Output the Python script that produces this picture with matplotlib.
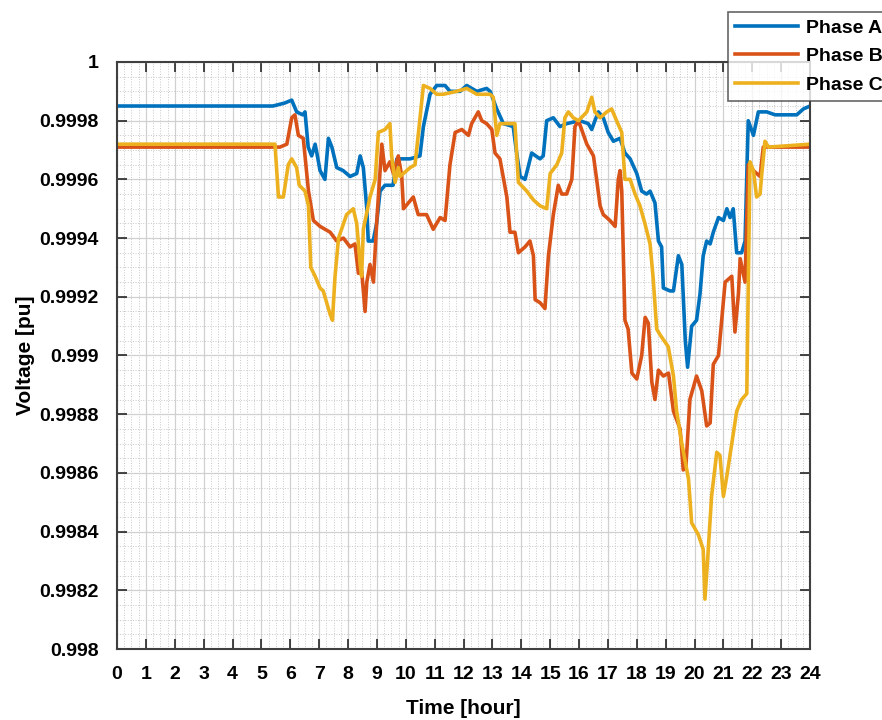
import matplotlib
matplotlib.use('Agg')
import matplotlib.pyplot as plt
from matplotlib.ticker import MultipleLocator

plt.rcParams['font.family'] = ['Liberation Sans', 'DejaVu Sans']
plt.rcParams['font.weight'] = 'bold'

# data (hour, voltage pu)
hours_a = [0, 5.4, 5.8, 6.05, 6.22, 6.43, 6.51, 6.62, 6.74, 6.86, 6.92, 7.03, 7.2, 7.32, 7.44,
           7.61, 7.83, 8.07, 8.3, 8.42, 8.53, 8.65, 8.7, 8.87, 8.99, 9.11, 9.28, 9.56, 9.69,
           10.15, 10.49, 10.61, 10.84, 11.07, 11.36, 11.53, 11.88, 12.11, 12.46, 12.8, 12.92,
           13.15, 13.38, 13.72, 13.84, 13.96, 14.13, 14.36, 14.5, 14.65, 14.76, 14.88, 15.11,
           15.34, 15.57, 16.03, 16.32, 16.44, 16.55, 16.67, 16.84, 17.01, 17.19, 17.42, 17.59,
           17.77, 18.0, 18.17, 18.34, 18.46, 18.63, 18.75, 18.86, 18.92, 19.15, 19.27, 19.44,
           19.56, 19.68, 19.76, 19.84, 19.9, 20.07, 20.19, 20.3, 20.42, 20.54, 20.65, 20.83,
           21.0, 21.12, 21.23, 21.34, 21.46, 21.63, 21.75, 21.86, 22.04, 22.21, 22.5, 22.79,
           23.54, 23.77, 24.0]
phase_a = [0.99985, 0.99985, 0.99986, 0.99987, 0.99983, 0.99982, 0.99983, 0.99971, 0.99968, 0.99972, 0.99969,
           0.99963, 0.99960, 0.99974, 0.99971, 0.99964, 0.99963, 0.99961, 0.99962, 0.99968, 0.99964,
           0.99950, 0.99939, 0.99939, 0.99945, 0.99956, 0.99958, 0.99958, 0.99967, 0.99967, 0.99968,
           0.99978, 0.99989, 0.99992, 0.99992, 0.99990, 0.99990, 0.99992, 0.99990, 0.99991, 0.99990,
           0.99984, 0.99979, 0.99978, 0.99969, 0.99961, 0.99960, 0.99969, 0.99968, 0.99967, 0.99968,
           0.99980, 0.99981, 0.99978, 0.99979, 0.99980, 0.99979, 0.99977, 0.99980, 0.99983, 0.99981,
           0.99976, 0.99973, 0.99974, 0.99969, 0.99967, 0.99962, 0.99956, 0.99955, 0.99956, 0.99952,
           0.99939, 0.99937, 0.99923, 0.99922, 0.99922, 0.99934, 0.99931, 0.99905, 0.99896, 0.99904,
           0.99910, 0.99912, 0.99921, 0.99934, 0.99939, 0.99938, 0.99942, 0.99947, 0.99946, 0.99950,
           0.99947, 0.99950, 0.99935, 0.99935, 0.99939, 0.99980, 0.99975, 0.99983, 0.99983, 0.99982,
           0.99982, 0.99984, 0.99985]

hours_b = [0, 5.64, 5.88, 6.05, 6.16, 6.28, 6.45, 6.63, 6.8, 7.03, 7.38, 7.61, 7.84, 8.07, 8.24,
           8.36, 8.47, 8.59, 8.65, 8.76, 8.88, 8.99, 9.17, 9.28, 9.45, 9.57, 9.74, 9.86, 9.92,
           10.26, 10.43, 10.72, 10.95, 11.19, 11.36, 11.53, 11.71, 11.94, 12.17, 12.28, 12.51,
           12.63, 12.8, 12.98, 13.09, 13.26, 13.5, 13.61, 13.78, 13.9, 14.13, 14.3, 14.42, 14.48,
           14.65, 14.82, 14.94, 15.11, 15.28, 15.4, 15.57, 15.75, 15.86, 15.98, 16.09, 16.27,
           16.5, 16.61, 16.73, 16.84, 16.96, 17.07, 17.25, 17.36, 17.42, 17.48, 17.59, 17.7,
           17.83, 18.0, 18.17, 18.29, 18.4, 18.52, 18.63, 18.75, 18.92, 19.1, 19.27, 19.5, 19.61,
           19.7, 19.84, 20.07, 20.25, 20.42, 20.54, 20.65, 20.83, 21.06, 21.29, 21.4, 21.52,
           21.58, 21.75, 21.86, 22.04, 22.27, 22.38, 24.0]
phase_b = [0.99971, 0.99971, 0.99972, 0.99981, 0.99982, 0.99975, 0.99974, 0.99956, 0.99946, 0.99944,
           0.99942, 0.99939, 0.99940, 0.99937, 0.99938, 0.99928, 0.99929, 0.99915, 0.99925, 0.99931,
           0.99925, 0.99945, 0.99972, 0.99963, 0.99966, 0.99962, 0.99968, 0.99961, 0.99950, 0.99954,
           0.99948, 0.99948, 0.99943, 0.99947, 0.99946, 0.99965, 0.99976, 0.99977, 0.99975, 0.99979,
           0.99983, 0.99980, 0.99979, 0.99977, 0.99969, 0.99967, 0.99954, 0.99942, 0.99942, 0.99935,
           0.99937, 0.99939, 0.99934, 0.99919, 0.99918, 0.99916, 0.99934, 0.99948, 0.99958, 0.99955,
           0.99955, 0.99960, 0.99978, 0.99980, 0.99977, 0.99972, 0.99968, 0.99960, 0.99951, 0.99948,
           0.99947, 0.99946, 0.99944, 0.99960, 0.99963, 0.99956, 0.99912, 0.99909, 0.99894, 0.99892,
           0.99900, 0.99913, 0.99911, 0.99891, 0.99885, 0.99895, 0.99893, 0.99894, 0.99881, 0.99875,
           0.99861, 0.99862, 0.99885, 0.99893, 0.99888, 0.99876, 0.99877, 0.99897, 0.99900, 0.99925,
           0.99927, 0.99908, 0.99921, 0.99933, 0.99925, 0.99965, 0.99963, 0.99961, 0.99971, 0.99971]

hours_c = [0, 5.47, 5.59, 5.76, 5.93, 6.05, 6.22, 6.31, 6.51, 6.63, 6.71, 6.86, 7.03, 7.14, 7.26,
           7.38, 7.46, 7.55, 7.67, 7.95, 8.18, 8.3, 8.42, 8.47, 8.53, 8.76, 8.94, 9.05, 9.28, 9.45,
           9.51, 9.63, 9.74, 9.8, 10.15, 10.32, 10.43, 10.61, 10.84, 11.07, 11.3, 11.76, 12.11,
           12.46, 12.92, 13.03, 13.15, 13.26, 13.78, 13.9, 14.19, 14.42, 14.65, 14.88, 15.0,
           15.23, 15.4, 15.51, 15.63, 15.8, 15.98, 16.27, 16.44, 16.55, 16.73, 16.96, 17.13, 17.3,
           17.48, 17.59, 17.77, 17.94, 18.11, 18.28, 18.46, 18.57, 18.69, 18.81, 19.09, 19.27,
           19.38, 19.56, 19.79, 19.9, 20.13, 20.3, 20.36, 20.45, 20.59, 20.77, 20.88, 21.0, 21.12,
           21.29, 21.46, 21.63, 21.81, 21.92, 22.04, 22.15, 22.27, 22.33, 22.44, 22.56, 24.0]
phase_c = [0.99972, 0.99972, 0.99954, 0.99954, 0.99965, 0.99967, 0.99964, 0.99958, 0.99956, 0.99951,
           0.99930, 0.99927, 0.99923, 0.99922, 0.99918, 0.99914, 0.99912, 0.99927, 0.99940, 0.99948,
           0.99950, 0.99945, 0.99931, 0.99927, 0.99943, 0.99954, 0.99960, 0.99976, 0.99977, 0.99979,
           0.99968, 0.99959, 0.99964, 0.99961, 0.99964, 0.99965, 0.99975, 0.99992, 0.99991, 0.99989,
           0.99989, 0.99990, 0.99991, 0.99989, 0.99989, 0.99988, 0.99975, 0.99979, 0.99979, 0.99959,
           0.99956, 0.99953, 0.99951, 0.99950, 0.99962, 0.99965, 0.99969, 0.99981, 0.99983, 0.99981,
           0.99980, 0.99983, 0.99988, 0.99983, 0.99981, 0.99983, 0.99984, 0.99980, 0.99976, 0.99960,
           0.99960, 0.99955, 0.99951, 0.99945, 0.99938, 0.99926, 0.99909, 0.99907, 0.99903, 0.99893,
           0.99881, 0.99870, 0.99858, 0.99843, 0.99839, 0.99834, 0.99817, 0.99830, 0.99852, 0.99867,
           0.99866, 0.99852, 0.99859, 0.99870, 0.99881, 0.99885, 0.99887, 0.99966, 0.99963, 0.99954,
           0.99955, 0.99962, 0.99973, 0.99971, 0.99972]

y_ticks = [0.998, 0.9982, 0.9984, 0.9986, 0.9988, 0.999, 0.9992, 0.9994, 0.9996, 0.9998, 1.0]
y_labels = ['0.998', '0.9982', '0.9984', '0.9986', '0.9988', '0.999',
            '0.9992', '0.9994', '0.9996', '0.9998', '1']
x_ticks = list(range(0, 25))

fig = plt.figure(figsize=(8.82, 7.2), dpi=100)
ax = fig.add_axes([0.1327, 0.0986, 0.7857, 0.8153])

ax.plot(hours_a, phase_a, color='#0072BD', lw=2.6, label='Phase A')
ax.plot(hours_b, phase_b, color='#D95319', lw=2.6, label='Phase B')
ax.plot(hours_c, phase_c, color='#EDB120', lw=2.6, label='Phase C')

ax.set_xlim(0, 24)
ax.set_ylim(0.998, 1.0)
ax.set_xticks(x_ticks)
ax.set_xticklabels([str(t) for t in x_ticks])
ax.set_yticks(y_ticks)
ax.set_yticklabels(y_labels)
ax.xaxis.set_minor_locator(MultipleLocator(0.25))
ax.yaxis.set_minor_locator(MultipleLocator(0.00005))

ax.grid(which='major', color='#d0d0d0', lw=0.9, ls='-')
ax.grid(which='minor', color='#c8c8c8', lw=0.7, ls=':')
ax.set_axisbelow(True)

ax.tick_params(which='major', direction='in', length=7, width=1.2, top=True, right=True,
               labelsize=14, color='#262626')
ax.tick_params(axis='x', which='major', pad=12)
ax.tick_params(axis='y', which='major', pad=13)
ax.tick_params(which='minor', length=0)
for lbl in ax.get_xticklabels() + ax.get_yticklabels():
    lbl.set_fontweight('bold')
for sp in ax.spines.values():
    sp.set_color('#404040')
    sp.set_linewidth(1.5)

ax.set_xlabel('Time [hour]', fontsize=15, fontweight='bold', labelpad=12)
ax.set_ylabel('Voltage [pu]', fontsize=15, fontweight='bold', labelpad=3)

leg = fig.legend(loc='upper left', bbox_to_anchor=(0.825, 0.984), fontsize=14,
                 frameon=True, fancybox=False, edgecolor='#404040', handlelength=3.2,
                 borderpad=0.4, labelspacing=0.55, handletextpad=0.45, borderaxespad=0)
leg.get_frame().set_linewidth(1.2)
for t in leg.get_texts():
    t.set_fontweight('bold')

fig.savefig('out.png', dpi=100)
